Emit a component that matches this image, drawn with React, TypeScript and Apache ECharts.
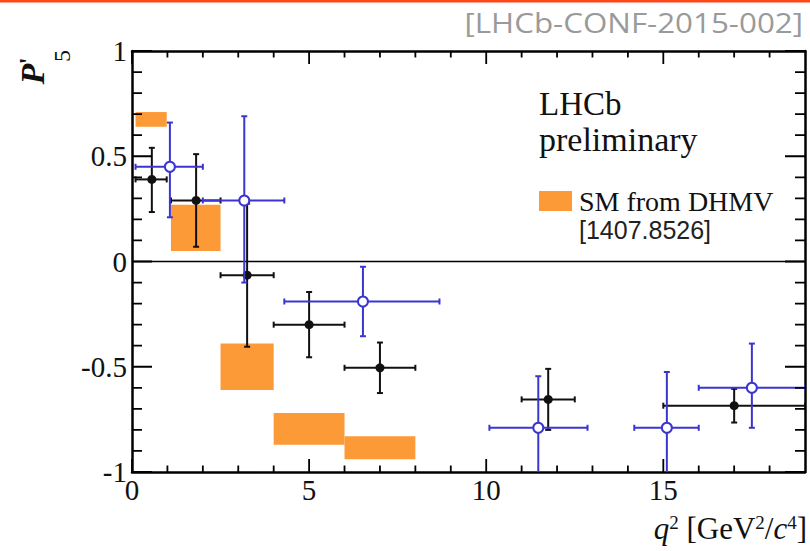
import React, { useEffect, useRef } from 'react';
import * as echarts from 'echarts';

// SM prediction bins (DHMV)
const smBinLo = [0.1, 1.1, 2.5, 4.0, 6.0];
const smBinHi = [0.98, 2.5, 4.0, 6.0, 8.0];
const smLow = [0.64, 0.05, -0.61, -0.87, -0.94];
const smHigh = [0.71, 0.27, -0.39, -0.72, -0.83];

// 3 fb-1 (black, filled)
const blackX = [0.56, 1.81, 3.25, 5.0, 7.0, 11.75, 17.0];
const blackXLo = [0.1, 1.1, 2.5, 4.0, 6.0, 11.0, 15.0];
const blackXHi = [0.98, 2.5, 4.0, 6.0, 8.0, 12.5, 19.0];
const blackY = [0.39, 0.29, -0.065, -0.3, -0.505, -0.655, -0.685];
const blackErrUp = [0.15, 0.22, 0.34, 0.155, 0.12, 0.145, 0.08];
const blackErrDn = [0.155, 0.22, 0.34, 0.155, 0.12, 0.145, 0.08];

// 1 fb-1 (blue, open)
const blueX = [1.07, 3.17, 6.52, 11.47, 15.1, 17.5];
const blueXLo = [0.1, 2.0, 4.3, 10.09, 14.18, 16.0];
const blueXHi = [2.0, 4.3, 8.68, 12.86, 16.0, 19.0];
const blueY = [0.45, 0.29, -0.19, -0.79, -0.79, -0.6];
const blueErrUp = [0.21, 0.4, 0.165, 0.245, 0.265, 0.21];
const blueErrDn = [0.24, 0.39, 0.165, 0.27, 0.27, 0.19];

// axis ticks (values)
const xMajorTicks = [0, 5, 10, 15];
const xMinorTicks = [1, 2, 3, 4, 6, 7, 8, 9, 11, 12, 13, 14, 16, 17, 18];
const yMajorTicks = [-1, -0.5, 0, 0.5, 1];
const yMinorTicks = [-0.9, -0.8, -0.7, -0.6, -0.4, -0.3, -0.2, -0.1, 0.1, 0.2, 0.3, 0.4, 0.6, 0.7, 0.8, 0.9];

const xMin = 0;
const xMax = 19;
const yMin = -1;
const yMax = 1;

const SERIF = "'Liberation Serif', 'Times New Roman', serif";
const ORANGE = '#fd9a38';
const BLUE = '#3b35d0';
const BLACK = '#111111';

const makeErrRender = (color: string, open: boolean) => (params: any, api: any) => {
  const x = api.value(0);
  const y = api.value(1);
  const xl = api.value(2);
  const xh = api.value(3);
  const yl = api.value(4);
  const yh = api.value(5);
  const c = api.coord([x, y]);
  const a = api.coord([xl, y]);
  const b = api.coord([xh, y]);
  const d = api.coord([x, yl]);
  const e = api.coord([x, yh]);
  const st = { stroke: color, lineWidth: 2 };
  const cap = 3;
  const children: any[] = [
    { type: 'line', shape: { x1: a[0], y1: c[1], x2: b[0], y2: c[1] }, style: st },
    { type: 'line', shape: { x1: c[0], y1: d[1], x2: c[0], y2: e[1] }, style: st },
    { type: 'line', shape: { x1: a[0], y1: c[1] - cap, x2: a[0], y2: c[1] + cap }, style: st },
    { type: 'line', shape: { x1: b[0], y1: c[1] - cap, x2: b[0], y2: c[1] + cap }, style: st },
    { type: 'line', shape: { x1: c[0] - cap, y1: d[1], x2: c[0] + cap, y2: d[1] }, style: st },
    { type: 'line', shape: { x1: c[0] - cap, y1: e[1], x2: c[0] + cap, y2: e[1] }, style: st },
    {
      type: 'circle',
      shape: { cx: c[0], cy: c[1], r: open ? 5 : 4.5 },
      style: open ? { fill: '#fff', stroke: color, lineWidth: 2 } : { fill: color },
    },
  ];
  return { type: 'group', children };
};

const boxRender = (params: any, api: any) => {
  const p1 = api.coord([api.value(0), api.value(3)]);
  const p2 = api.coord([api.value(1), api.value(2)]);
  return {
    type: 'rect',
    shape: { x: p1[0], y: p1[1], width: p2[0] - p1[0], height: p2[1] - p1[1] },
    style: { fill: ORANGE },
  };
};

export default function App() {
  const ref = useRef<HTMLDivElement>(null);
  useEffect(() => {
    const chart = echarts.init(ref.current!, null, { renderer: 'svg' });

    const smData = smBinLo.map((lo, i) => [lo, smBinHi[i], smLow[i], smHigh[i]]);
    const blackData = blackX.map((x, i) => [
      x, blackY[i], blackXLo[i], blackXHi[i], blackY[i] - blackErrDn[i], blackY[i] + blackErrUp[i],
    ]);
    const blueData = blueX.map((x, i) => [
      x, blueY[i], blueXLo[i], blueXHi[i], blueY[i] - blueErrDn[i], blueY[i] + blueErrUp[i],
    ]);

    // tick segments as broken line series (lengths in axis units: 13/6.5 px vertical, 20/10 px horizontal)
    const gap: any = ['-', '-'];
    const xTickLen = (major: boolean) => ((major ? 13 : 6.5) / 421) * (yMax - yMin);
    const yTickLen = (major: boolean) => ((major ? 20 : 10) / 673) * (xMax - xMin);
    const tickSegs: any[] = [];
    const pushX = (v: number, major: boolean) => {
      const l = xTickLen(major);
      tickSegs.push([v, yMin], [v, yMin + l], gap, [v, yMax], [v, yMax - l], gap);
    };
    const pushY = (v: number, major: boolean) => {
      const l = yTickLen(major);
      tickSegs.push([xMin, v], [xMin + l, v], gap, [xMax, v], [xMax - l, v], gap);
    };
    xMajorTicks.forEach((v) => pushX(v, true));
    xMinorTicks.forEach((v) => pushX(v, false));
    yMajorTicks.forEach((v) => pushY(v, true));
    yMinorTicks.forEach((v) => pushY(v, false));

    const frame = () => ({ show: true, onZero: false, lineStyle: { color: '#000', width: 2.5 } });
    const labelStyle = { fontFamily: SERIF, fontSize: 29, color: '#111' };

    const texts: any[] = [
      { type: 'rect', shape: { x: 0, y: 0, width: 810, height: 2.5 }, style: { fill: '#ff4619' } },
      {
        type: 'text',
        x: 803,
        y: 22,
        scaleX: 1.12,
        style: {
          text: '[LHCb-CONF-2015-002]',
          align: 'right',
          verticalAlign: 'middle',
          font: "28px 'Open Sans', sans-serif",
          fill: '#9a9a9a',
        },
      },
      {
        type: 'text',
        x: 539,
        y: 104,
        style: { text: 'LHCb', align: 'left', verticalAlign: 'middle', font: `33px ${SERIF}`, fill: '#111' },
      },
      {
        type: 'text',
        x: 539,
        y: 139,
        style: { text: 'preliminary', align: 'left', verticalAlign: 'middle', font: `34px ${SERIF}`, fill: '#111' },
      },
      { type: 'rect', shape: { x: 539, y: 191, width: 33, height: 20 }, style: { fill: ORANGE } },
      {
        type: 'text',
        x: 579,
        y: 201,
        style: { text: 'SM from DHMV', align: 'left', verticalAlign: 'middle', font: `28px ${SERIF}`, fill: '#111' },
      },
      {
        type: 'text',
        x: 579,
        y: 230,
        style: {
          text: '[1407.8526]',
          align: 'left',
          verticalAlign: 'middle',
          font: "25px 'Liberation Sans', Arial, sans-serif",
          fill: '#222',
        },
      },
      {
        type: 'text',
        x: 807,
        y: 528,
        style: {
          text: '{i|q}{s|2}{n| [GeV}{s|2}{n|/}{i|c}{s|4}{n|]}',
          align: 'right',
          verticalAlign: 'middle',
          rich: {
            i: { fontFamily: SERIF, fontStyle: 'italic', fontSize: 31, fill: '#111' },
            n: { fontFamily: SERIF, fontSize: 31, fill: '#111' },
            s: { fontFamily: SERIF, fontSize: 19, fill: '#111', verticalAlign: 'top', lineHeight: 16 },
          },
        },
      },
      {
        type: 'text',
        x: 32,
        y: 74,
        rotation: Math.PI / 2,
        style: { text: 'P', align: 'center', verticalAlign: 'middle', font: `italic bold 34px ${SERIF}`, fill: '#111' },
      },
      {
        type: 'text',
        x: 28,
        y: 61,
        rotation: Math.PI / 2,
        style: { text: "'", align: 'center', verticalAlign: 'middle', font: `bold 26px ${SERIF}`, fill: '#111' },
      },
      {
        type: 'text',
        x: 62,
        y: 56,
        rotation: Math.PI / 2,
        style: { text: '5', align: 'center', verticalAlign: 'middle', font: `24px ${SERIF}`, fill: '#111' },
      },
    ];

    const option: any = {
      animation: false,
      grid: { left: 132, top: 51, width: 673, height: 421, containLabel: false },
      xAxis: [
        {
          type: 'value',
          min: xMin,
          max: xMax,
          interval: 5,
          position: 'bottom',
          splitLine: { show: false },
          axisLine: frame(),
          axisTick: { show: false },
          axisLabel: {
            ...labelStyle,
            margin: 3,
            formatter: (v: number) => (v % 5 === 0 ? String(v) : ''),
          },
        },
        {
          type: 'value',
          min: xMin,
          max: xMax,
          interval: 5,
          position: 'top',
          splitLine: { show: false },
          axisLine: frame(),
          axisTick: { show: false },
          axisLabel: { show: false },
        },
      ],
      yAxis: [
        {
          type: 'value',
          min: yMin,
          max: yMax,
          interval: 0.5,
          position: 'left',
          splitLine: { show: false },
          axisLine: frame(),
          axisTick: { show: false },
          axisLabel: { ...labelStyle, margin: 5 },
        },
        {
          type: 'value',
          min: yMin,
          max: yMax,
          interval: 0.5,
          position: 'right',
          splitLine: { show: false },
          axisLine: frame(),
          axisTick: { show: false },
          axisLabel: { show: false },
        },
      ],
      series: [
        {
          type: 'custom',
          name: 'SM from DHMV',
          xAxisIndex: 0,
          yAxisIndex: 0,
          clip: true,
          renderItem: boxRender,
          encode: { x: [0, 1], y: [2, 3] },
          data: smData,
          z: 1,
        },
        {
          type: 'line',
          xAxisIndex: 0,
          yAxisIndex: 0,
          symbol: 'none',
          silent: true,
          lineStyle: { color: '#000', width: 1.6 },
          data: [[xMin, 0], [xMax, 0]],
          z: 2,
        },
        {
          type: 'custom',
          name: '3 fb-1',
          xAxisIndex: 0,
          yAxisIndex: 0,
          clip: true,
          renderItem: makeErrRender(BLACK, false),
          encode: { x: [0, 2, 3], y: [1, 4, 5] },
          data: blackData,
          z: 3,
        },
        {
          type: 'custom',
          name: '1 fb-1',
          xAxisIndex: 0,
          yAxisIndex: 0,
          clip: true,
          renderItem: makeErrRender(BLUE, true),
          encode: { x: [0, 2, 3], y: [1, 4, 5] },
          data: blueData,
          z: 4,
        },
        {
          type: 'line',
          name: 'axis ticks',
          xAxisIndex: 0,
          yAxisIndex: 0,
          symbol: 'none',
          silent: true,
          connectNulls: false,
          clip: false,
          lineStyle: { color: '#000', width: 1.8 },
          data: tickSegs,
          z: 5,
        },
      ],
      graphic: texts,
    };

    chart.setOption(option);
    return () => chart.dispose();
  }, []);

  return (
    <div
      ref={ref}
      style={{ position: 'absolute', left: 0, top: 0, width: 810, height: 551, background: '#fff' }}
    />
  );
}
